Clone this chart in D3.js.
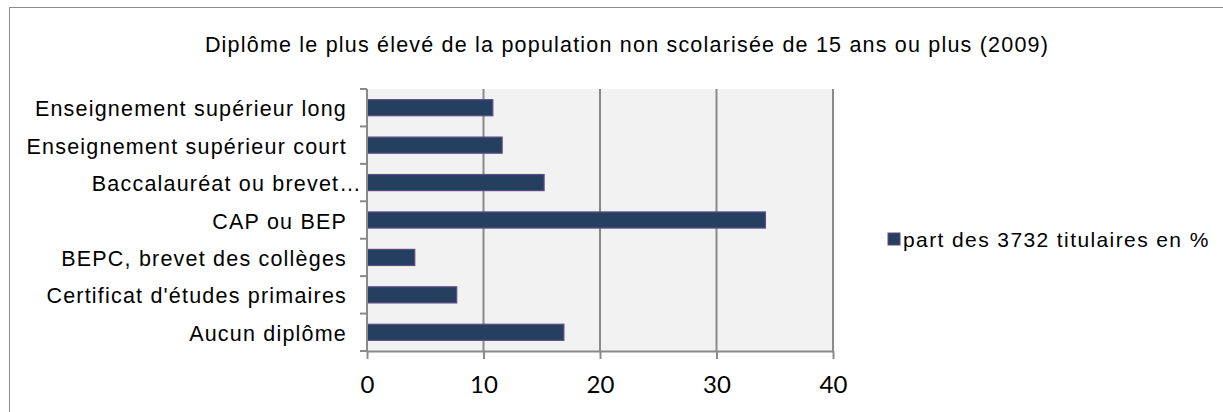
<!DOCTYPE html>
<html>
<head>
<meta charset="utf-8">
<script src="https://cdn.jsdelivr.net/npm/d3@7"></script>
<style>
  html, body { margin: 0; padding: 0; background: #fff; }
  svg { display: block; }
</style>
</head>
<body>
<svg id="chart" width="1223" height="412"></svg>
<script>
// Diplôme le plus élevé, part des titulaires (%)
const categories = [
  "Enseignement supérieur long",
  "Enseignement supérieur court",
  "Baccalauréat ou brevet…",
  "CAP ou BEP",
  "BEPC, brevet des collèges",
  "Certificat d'études primaires",
  "Aucun diplôme"
];
const values = [10.8, 11.6, 15.2, 34.2, 4.1, 7.7, 16.9];
const xTicks = [0, 10, 20, 30, 40];
const title = "Diplôme le plus élevé de la population non scolarisée de 15 ans ou plus (2009)";
const seriesName = "part des 3732 titulaires en %";

const svg = d3.select("#chart");
const plot = { left: 367, right: 833, top: 89, bottom: 351 };
const sans = "'Liberation Sans', Arial, sans-serif";

// outer chart frame
svg.append("rect")
  .attr("x", 9.5).attr("y", 7.5)
  .attr("width", 1240).attr("height", 420)
  .attr("fill", "#fff")
  .attr("stroke", "#8c8c8c").attr("stroke-width", 1);

const x = d3.scaleLinear().domain([0, 40]).range([plot.left, plot.right]);
const y = d3.scaleBand().domain(categories).range([plot.top, plot.bottom]).paddingInner(0.57).paddingOuter(0.285);
const yTicks = d3.scaleBand().domain(categories).range([plot.top, plot.bottom]);

// plot background
svg.append("rect")
  .attr("x", plot.left).attr("y", plot.top)
  .attr("width", plot.right - plot.left).attr("height", plot.bottom - plot.top)
  .attr("fill", "#f2f2f2");

// vertical gridlines
svg.append("g").selectAll("line").data(xTicks.filter(d => d > 0)).join("line")
  .attr("x1", d => x(d)).attr("x2", d => x(d))
  .attr("y1", plot.top).attr("y2", plot.bottom)
  .attr("stroke", "#8a8a8a").attr("stroke-width", 2);

// bars
svg.append("g").selectAll("rect").data(values).join("rect")
  .attr("x", x(0))
  .attr("y", (d, i) => y(categories[i]))
  .attr("width", d => x(d) - x(0))
  .attr("height", y.bandwidth())
  .attr("fill", "#243f60")
  .attr("stroke", "#5f4a86").attr("stroke-width", 1.2);

// x axis
const xAxis = svg.append("g")
  .attr("transform", `translate(0,${plot.bottom})`)
  .call(d3.axisBottom(x).tickValues(xTicks).tickSize(8).tickSizeOuter(0).tickPadding(17));
xAxis.select(".domain").attr("stroke", "#8a8a8a").attr("stroke-width", 2);
xAxis.selectAll(".tick line").attr("stroke", "#8a8a8a").attr("stroke-width", 2);
xAxis.selectAll(".tick text")
  .attr("font-family", "Lato, 'Open Sans', sans-serif")
  .attr("font-size", 24).attr("fill", "#000");

// y axis (category ticks at band boundaries)
const yg = svg.append("g");
yg.append("line")
  .attr("x1", plot.left).attr("x2", plot.left)
  .attr("y1", plot.top).attr("y2", plot.bottom)
  .attr("stroke", "#8a8a8a").attr("stroke-width", 2);
const bounds = categories.map(c => yTicks(c)).concat([plot.bottom]);
yg.selectAll("line.t").data(bounds).join("line").attr("class", "t")
  .attr("x1", plot.left - 7).attr("x2", plot.left)
  .attr("y1", d => d).attr("y2", d => d)
  .attr("stroke", "#8a8a8a").attr("stroke-width", 2);
yg.selectAll("text").data(categories).join("text")
  .attr("x", d => d.endsWith("…") ? 362 : 347)
  .attr("y", d => yTicks(d) + yTicks.bandwidth() / 2)
  .attr("dy", "0.4em")
  .attr("text-anchor", "end")
  .attr("font-family", sans)
  .attr("font-size", 21.5)
  .attr("letter-spacing", 1.2)
  .attr("fill", "#000")
  .text(d => d);

// title
svg.append("text")
  .attr("x", 627).attr("y", 52)
  .attr("text-anchor", "middle")
  .attr("font-family", sans)
  .attr("font-size", 21.5)
  .attr("letter-spacing", 1.2)
  .attr("fill", "#000")
  .text(title);

// legend
const lg = svg.append("g").attr("transform", "translate(888,233)");
lg.append("rect").attr("width", 12).attr("height", 12)
  .attr("fill", "#243f60").attr("stroke", "#5f4a86").attr("stroke-width", 1);
lg.append("text").attr("x", 15).attr("y", 14)
  .attr("font-family", sans)
  .attr("font-size", 21).attr("letter-spacing", 1.4).attr("fill", "#000")
  .text(seriesName);
</script>
</body>
</html>
